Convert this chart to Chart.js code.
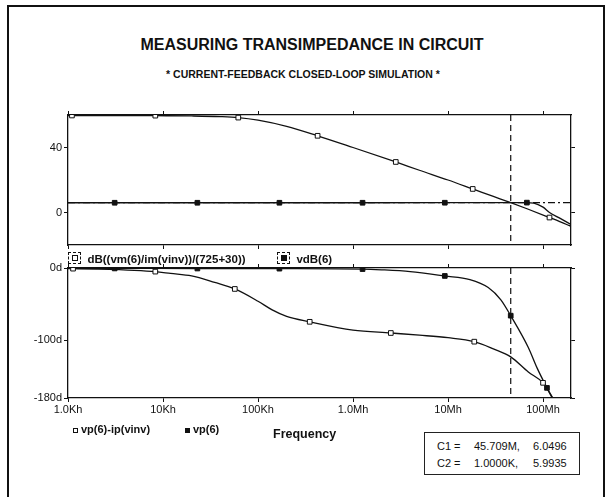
<!DOCTYPE html>
<html>
<head>
<meta charset="utf-8">
<script src="https://cdn.jsdelivr.net/npm/chart.js@4.4.1/dist/chart.umd.min.js"></script>
<style>
  html, body { margin: 0; background: #fff; font-family: "Liberation Sans", Arial, sans-serif; color: #111; overflow: hidden; }
  #page { position: relative; width: 610px; height: 497px; overflow: hidden; }
  .abs { position: absolute; white-space: nowrap; }
  #frame { left: 7px; top: 5px; width: 598px; height: 700px; border-left: 2px solid #111; border-top: 2px solid #111; border-right: 2px solid #111; box-sizing: border-box; }
  #title { left: 14px; top: 35px; width: 596px; text-align: center; font-size: 16px; font-weight: bold; line-height: 20px; }
  #subtitle { left: -2px; top: 68px; width: 610px; text-align: center; font-size: 10.5px; font-weight: bold; line-height: 13px; }
  .leg { font-size: 11.5px; font-weight: bold; line-height: 14px; }
  .brk { display: inline-block; width: 11px; height: 10px; border: 1px dashed #111; position: relative; vertical-align: -1px; }
  .brk i { position: absolute; left: 3px; top: 2px; width: 4px; height: 4px; border: 1px solid #111; background: #fff; }
  .brk i.f { background: #111; }
  .sq { display: inline-block; width: 3px; height: 3px; border: 1px solid #111; background: #fff; margin-right: 3px; vertical-align: 0px; }
  .sq.f { background: #111; }
  #cbox { left: 424px; top: 432px; width: 156px; height: 43px; border: 1px solid #222; box-sizing: border-box; font-size: 11px; }
  #cbox span { position: absolute; }
  canvas { position: absolute; }
</style>
</head>
<body>
<div id="page">
  <div id="frame" class="abs"></div>
  <div id="title" class="abs">MEASURING TRANSIMPEDANCE IN CIRCUIT</div>
  <div id="subtitle" class="abs">* CURRENT-FEEDBACK CLOSED-LOOP SIMULATION *</div>

  <canvas id="topChart" width="595" height="150" style="left:0;top:105px"></canvas>
  <canvas id="botChart" width="595" height="165" style="left:0;top:258px"></canvas>

  <div class="abs leg" style="left:68px;top:252px"><span class="brk"><i></i></span>&nbsp; dB((vm(6)/im(vinv))/(725+30))</div>
  <div class="abs leg" style="left:277px;top:252px"><span class="brk"><i class="f"></i></span>&nbsp; vdB(6)</div>

  <div class="abs leg" style="left:73px;top:422px;font-size:11px"><span class="sq"></span>vp(6)-ip(vinv)</div>
  <div class="abs leg" style="left:185px;top:422px;font-size:11px"><span class="sq f"></span>vp(6)</div>
  <div class="abs leg" style="left:273px;top:427px;font-size:12.5px">Frequency</div>

  <div id="cbox" class="abs">
    <span style="left:12px;top:7px">C1 =</span>
    <span style="left:49px;top:7px">45.709M,</span>
    <span style="left:108px;top:7px">6.0496</span>
    <span style="left:12px;top:24px">C2 =</span>
    <span style="left:49px;top:24px">1.0000K,</span>
    <span style="left:108px;top:24px">5.9935</span>
  </div>
</div>

<script>
// frequency axis (log)
const xTicks = [1e3, 1e4, 1e5, 1e6, 1e7, 1e8];
const xTickLabels = ["1.0Kh", "10Kh", "100Kh", "1.0Mh", "10Mh", "100Mh"];
const xMin = 1e3, xMax = 1.97e8;

// top panel: transimpedance dB and vdB(6)
const zFreq = [1e3, 1.1e3, 2e3, 5e3, 8.3e3, 2e4, 4e4, 6.2e4, 1e5, 2e5, 4.24e5, 1e6, 2.82e6, 5e6, 1e7, 1.82e7, 3e7, 4.5709e7, 7e7, 1.17e8, 1.5e8, 1.97e8];
const zDb   = [59.7, 59.7, 59.7, 59.7, 59.6, 59.4, 59.0, 58.4, 56.8, 53.0, 47.2, 40.0, 31.1, 26.0, 20.0, 14.5, 9.9, 6.05, 2.0, -3.1, -5.6, -8.5];
const zMarks = [1.1e3, 8.3e3, 6.2e4, 4.24e5, 2.82e6, 1.82e7, 1.17e8];

const vFreq = [1e3, 3.1e3, 2.3e4, 1.68e5, 1.26e6, 9.25e6, 4.5709e7, 6.76e7, 8e7, 1e8, 1.17e8, 1.5e8, 1.97e8];
const vDb   = [5.99, 6.0, 6.0, 6.0, 6.0, 6.02, 6.05, 6.08, 5.8, 3.3, 0.0, -3.5, -7.4];
const vMarks = [3.1e3, 2.3e4, 1.68e5, 1.26e6, 9.25e6, 6.76e7];

const topTicks = [0, 40];
const topTickLabels = ["0", "40"];

// bottom panel: phase
const pFreq = [1e3, 1.13e3, 2e3, 5e3, 8.3e3, 1.2e4, 2e4, 3.5e4, 5.7e4, 1e5, 1.41e5, 2e5, 3.5e5, 1e6, 2.5e6, 5e6, 1e7, 1.89e7, 3e7, 4.5709e7, 7e7, 1e8, 1.27e8];
const pDeg  = [-0.8, -0.9, -1.5, -3.2, -5, -7.5, -11, -20, -29, -46, -58, -67, -74.5, -86, -90, -93, -96.5, -102, -112, -123, -144, -159, -180];
const pMarks = [1.13e3, 8.3e3, 5.7e4, 3.5e5, 2.5e6, 1.89e7, 1e8];

const qFreq = [1e3, 3.1e3, 2.3e4, 1.68e5, 1.26e6, 2e6, 4e6, 9.25e6, 1.7e7, 2.65e7, 3.6e7, 4.5709e7, 7e7, 8.7e7, 1.1e8, 1.25e8];
const qDeg  = [-0.5, -0.6, -0.7, -0.9, -1.5, -2.5, -5, -11, -16, -27, -44, -66, -110, -139, -166, -180];
const qMarks = [3.1e3, 2.3e4, 1.68e5, 1.26e6, 9.25e6, 4.5709e7, 1.1e8];

const botTicks = [-180, -100, 0];
const botTickLabels = ["-180d", "-100d", "0d"];

// cursors
const cursorFreq = 4.5709e7;
const cursorVal = 6.0496;

const INK = '#111';
const FONT = { family: 'Liberation Sans', size: 11 };

function pts(xs, ys) { return xs.map((x, i) => ({ x: x, y: ys[i] })); }

function series(xs, ys, marks, filled) {
  return {
    data: pts(xs, ys),
    borderColor: INK,
    borderWidth: 1.3,
    cubicInterpolationMode: 'monotone',
    pointStyle: 'rect',
    pointRadius: ctx => marks.includes(ctx.raw.x) ? 3.3 : 0,
    pointBorderColor: INK,
    pointBorderWidth: 1,
    pointBackgroundColor: filled ? INK : '#fff',
  };
}

function xAxis(pos, h, showLabels) {
  return {
    type: 'logarithmic', position: pos, min: xMin, max: xMax,
    afterBuildTicks: s => { s.ticks = xTicks.map(v => ({ value: v })); },
    afterFit: s => { s.height = h; },
    ticks: { display: showLabels, autoSkip: false, maxRotation: 0, padding: 1,
             color: INK, font: FONT, callback: (v, i) => xTickLabels[i] },
    grid: { drawOnChartArea: false, tickLength: 4, color: INK, lineWidth: 1 },
    border: { display: true, color: INK, width: 1.3 },
  };
}

function yAxis(pos, w, min, max, ticks, labels, showLabels) {
  return {
    type: 'linear', position: pos, min: min, max: max,
    afterBuildTicks: s => { s.ticks = ticks.map(v => ({ value: v })); },
    afterFit: s => { s.width = w; },
    ticks: { display: showLabels, padding: 2, color: INK, font: FONT,
             callback: (v, i) => labels[i] },
    grid: { drawOnChartArea: false, tickLength: 4, color: INK, lineWidth: 1 },
    border: { display: true, color: INK, width: 1.3 },
  };
}

const cursorPlugin = {
  id: 'cursor',
  afterDatasetsDraw(chart, args, opts) {
    const { ctx, chartArea: a, scales } = chart;
    const x = scales.x.getPixelForValue(cursorFreq);
    ctx.save();
    ctx.strokeStyle = INK;
    ctx.lineWidth = 1.2;
    ctx.setLineDash([6, 4]);
    ctx.beginPath();
    ctx.moveTo(x, a.top);
    ctx.lineTo(x, a.bottom);
    ctx.stroke();
    if (opts.level) {
      const y = scales.y.getPixelForValue(cursorVal);
      ctx.setLineDash([7, 3, 2, 3]);
      ctx.beginPath();
      ctx.moveTo(a.left, y);
      ctx.lineTo(a.right, y);
      ctx.stroke();
    }
    ctx.restore();
  }
};

function baseOptions(scales, level) {
  return {
    responsive: false,
    devicePixelRatio: 1,
    animation: false,
    events: [],
    layout: { padding: 0 },
    plugins: { legend: { display: false }, tooltip: { enabled: false }, cursor: { level: level } },
    scales: scales,
  };
}

new Chart(document.getElementById('topChart'), {
  type: 'line',
  data: { datasets: [ series(zFreq, zDb, zMarks, false), series(vFreq, vDb, vMarks, true) ] },
  options: baseOptions({
    x: xAxis('bottom', 10, false),
    x2: xAxis('top', 10, false),
    y: yAxis('left', 68, -20, 60, topTicks, topTickLabels, true),
    y2: yAxis('right', 24, -20, 60, topTicks, topTickLabels, false),
  }, true),
  plugins: [cursorPlugin]
});

new Chart(document.getElementById('botChart'), {
  type: 'line',
  data: { datasets: [ series(pFreq, pDeg, pMarks, false), series(qFreq, qDeg, qMarks, true) ] },
  options: baseOptions({
    x: xAxis('bottom', 25, true),
    x2: xAxis('top', 10, false),
    y: yAxis('left', 68, -180, 0, botTicks, botTickLabels, true),
    y2: yAxis('right', 24, -180, 0, botTicks, botTickLabels, false),
  }, false),
  plugins: [cursorPlugin]
});
</script>
</body>
</html>
